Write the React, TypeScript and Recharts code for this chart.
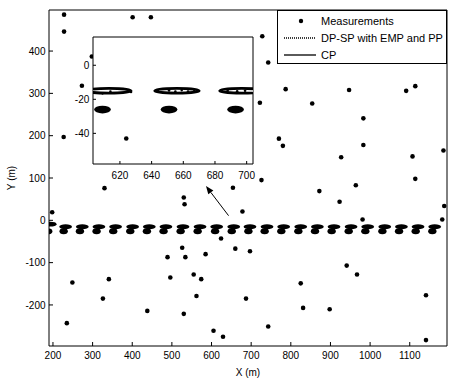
import React from 'react';
import { ScatterChart, Scatter, XAxis, YAxis, ReferenceLine, Legend } from 'recharts';

const FONT = '"Liberation Sans", Arial, Helvetica, sans-serif';

// ---------------- data ----------------
const measX = [228, 228, 273, 227, 298, 401, 447, 330, 530, 728, 743, 787, 722, 854, 947, 983, 1091, 1114, 770, 780, 927, 983, 1107, 1185, 1114, 726, 654, 872, 964, 198, 532, 624, 526, 489, 534, 585, 496, 555, 574, 562, 249, 341, 326, 438, 235, 530, 605, 629, 923, 678, 981, 1187, 1182, 660, 697, 941, 967, 825, 831, 898, 687, 743, 1141, 1141, 1195];
const measY = [486, 446, 318, 197, 387, 480, 480, 76, 54, 435, 373, 310, 278, 276, 308, 241, 306, 317, 193, 176, 149, 178, 151, 165, 98, 95, 77, 69, 83, 19, 38, -43, -65, -87, -87, -80, -135, -128, -139, -179, -147, -139, -185, -214, -243, -221, -261, -275, 44, 21, 2, 34, 2, -67, -73, -107, -128, -149, -207, -210, -185, -251, -177, -283, 462];

// DP-SP with EMP and PP: ellipse centres
const ellipseX = [193, 232, 274, 316, 358, 401, 443, 485, 528, 571, 613, 656, 697, 740, 782, 825, 867, 909, 952, 994, 1037, 1079, 1121, 1163];
const ellipseY = [-9, -15, -15, -15, -15, -15, -15, -15, -15, -15, -15, -15, -15, -15, -15, -15, -15, -15, -15, -15, -15, -15, -15, -15];
// CP: clustered estimates
const cpX = [188, 227, 268, 310, 352, 395, 437, 479, 522, 565, 609, 651, 693, 734, 776, 819, 861, 903, 946, 988, 1031, 1073, 1115, 1157];
const cpY = [-26, -26, -26, -26, -26, -26, -26, -26, -26, -26, -26, -26, -26, -26, -26, -26, -26, -26, -26, -26, -26, -26, -26, -26];
// estimated points inside the ellipses (visible in the inset)
const estX = [609, 614, 627, 644, 651, 655, 659, 663, 667, 688, 694, 699];
const estY = [-16.5, -15.5, -15.7, -15, -14.8, -15.5, -14.6, -15.4, -15, -15, -15.3, -15];

const xTicks = [200, 300, 400, 500, 600, 700, 800, 900, 1000, 1100];
const yTicks = [-200, -100, 0, 100, 200, 300, 400];
const insetXTicks = [620, 640, 660, 680, 700];
const insetYTicks = [-40, -20, 0];

const legendItems = ['Measurements', 'DP-SP with EMP and PP', 'CP'];
const arrowTail = { x: 643, y: 11 };
const arrowHead = { x: 586, y: 81 };

// ---------------- layout ----------------
const W = 449, H = 381;
const M = { top: 9, right: 1, bottom: 0, left: 0 };
const YW = 49, XH = 35, SIDE = 1;
const X_DOM: [number, number] = [190, 1194];
const Y_DOM: [number, number] = [-297, 497];
const PW = W - M.left - M.right - YW - SIDE;
const PH = H - M.top - M.bottom - XH - SIDE;
const KX = PW / (X_DOM[1] - X_DOM[0]);
const KY = PH / (Y_DOM[1] - Y_DOM[0]);

const IL = 60, IT = 30, IW = 196, IH = 156;
const IM = { top: 6, right: 2, bottom: 0, left: 0 };
const IYW = 33, IXH = 22;
const IX_DOM: [number, number] = [603, 704];
const IY_DOM: [number, number] = [-58, 16.6];
const IPW = IW - IM.left - IM.right - IYW - SIDE;
const IPH = IH - IM.top - IM.bottom - IXH - SIDE;
const IKX = IPW / (IX_DOM[1] - IX_DOM[0]);
const IKY = IPH / (IY_DOM[1] - IY_DOM[0]);

const measData = measX.map((x, i) => ({ x, y: measY[i] }));
const ellData = ellipseX.map((x, i) => ({ x, y: ellipseY[i] }));
const cpData = cpX.map((x, i) => ({ x, y: cpY[i] }));
const estData = estX.map((x, i) => ({ x, y: estY[i] }));

const ELL_RX = 14, ELL_RY = 1.4, CP_RX = 4, CP_RY = 1.1;
const MARK_R = 2.3;

// outlined ellipse (inset scale)
const makeRing = (kx: number, ky: number, rx: number, ry: number, sw: number) => (p: any) =>
  p.cx == null ? <g /> : (
    <ellipse cx={p.cx} cy={p.cy} rx={rx * kx} ry={ry * ky} fill="#fff" stroke="#000" strokeWidth={sw} />
  );
// solid blob = ellipse grown by the marker radius (pixel-size markers)
const makeBlob = (kx: number, ky: number, rx: number, ry: number, padX: number, padY: number) => (p: any) =>
  p.cx == null ? <g /> : (
    <ellipse cx={p.cx} cy={p.cy} rx={rx * kx + padX} ry={ry * ky + padY} fill="#000" stroke="none" />
  );
const makeDot = (r: number) => (p: any) =>
  p.cx == null ? <g /> : <circle cx={p.cx} cy={p.cy} r={r} fill="#000" />;

const arrowShape = (p: any) => {
  const { x1, y1, x2, y2 } = p;
  if (x1 == null) return <g />;
  const dx = x2 - x1, dy = y2 - y1;
  const len = Math.hypot(dx, dy) || 1;
  const ux = dx / len, uy = dy / len;
  const hl = 8, hw = 3.2;
  const bx = x2 - ux * hl, by = y2 - uy * hl;
  return (
    <g>
      <line x1={x1} y1={y1} x2={bx} y2={by} stroke="#000" strokeWidth={1} />
      <polygon points={`${x2},${y2} ${bx - uy * hw},${by + ux * hw} ${bx + uy * hw},${by - ux * hw}`} fill="#000" />
    </g>
  );
};

const tickStyle = { fontSize: 10, fill: '#000', fontFamily: FONT };

const renderLegend = () => (
  <div style={{ width: 170, height: 54, boxSizing: 'border-box', border: '1px solid #000', background: '#fff' }}>
    <svg width={168} height={52} style={{ display: 'block' }}>
      {legendItems.map((name, i) => {
        const cy = 10 + i * 17;
        return (
          <g key={name}>
            {i === 0 && <circle cx={23} cy={cy} r={2.2} fill="#000" />}
            {i === 1 && <line x1={6} x2={38} y1={cy} y2={cy} stroke="#000" strokeWidth={1.3} strokeDasharray="1 1" />}
            {i === 2 && <line x1={6} x2={38} y1={cy} y2={cy} stroke="#000" strokeWidth={1.3} />}
            <text x={43} y={cy + 4} fontSize={11} fontFamily={FONT} fill="#000">{name}</text>
          </g>
        );
      })}
    </svg>
  </div>
);

const YLabel = (props: any) => {
  const vb = props.viewBox || {};
  const x = vb.x + 11, y = vb.y + vb.height / 2;
  return (
    <text x={x} y={y} transform={`rotate(-90 ${x} ${y})`} textAnchor="middle" dominantBaseline="central" fontSize={10} fontFamily={FONT} fill="#000">Y (m)</text>
  );
};
const XLabel = (props: any) => {
  const vb = props.viewBox || {};
  return (
    <text x={vb.x + vb.width / 2} y={vb.y + 29.5} textAnchor="middle" fontSize={10} fontFamily={FONT} fill="#000">X (m)</text>
  );
};

const axisLine = { stroke: '#000', strokeWidth: 1 };
const tickLine = { stroke: '#000', strokeWidth: 1 };

export default function App() {
  return (
    <div style={{ position: 'absolute', left: 0, top: 0, width: W, height: H, background: '#fff', fontFamily: FONT }}>
      <div style={{ position: 'absolute', left: 0, top: 0 }}>
        <ScatterChart width={W} height={H} margin={M}>
          <XAxis xAxisId="b" dataKey="x" type="number" domain={X_DOM} allowDataOverflow ticks={xTicks} interval={0}
            orientation="bottom" height={XH} tickSize={-4} tickMargin={10} tick={tickStyle} axisLine={axisLine} tickLine={tickLine}
            label={(p: any) => <XLabel {...p} />} />
          <XAxis xAxisId="t" type="number" domain={X_DOM} allowDataOverflow ticks={xTicks} interval={0}
            orientation="top" height={SIDE} tickSize={-4} tick={false} axisLine={axisLine} tickLine={tickLine} />
          <YAxis yAxisId="l" dataKey="y" type="number" domain={Y_DOM} allowDataOverflow ticks={yTicks} interval={0}
            orientation="left" width={YW} tickSize={-4} tickMargin={7.5} tick={tickStyle} axisLine={axisLine} tickLine={tickLine}
            label={(p: any) => <YLabel {...p} />} />
          <YAxis yAxisId="r" type="number" domain={Y_DOM} allowDataOverflow ticks={yTicks} interval={0}
            orientation="right" width={SIDE} tickSize={-4} tick={false} axisLine={axisLine} tickLine={tickLine} />
          <Scatter name="DP-SP with EMP and PP" xAxisId="b" yAxisId="l" data={ellData} isAnimationActive={false}
            shape={makeBlob(KX, KY, ELL_RX, ELL_RY, 0.8, 1.9)} />
          <Scatter name="CP" xAxisId="b" yAxisId="l" data={cpData} isAnimationActive={false}
            shape={makeBlob(KX, KY, CP_RX, CP_RY, MARK_R + 0.3, MARK_R + 0.2)} />
          <Scatter name="Measurements" xAxisId="b" yAxisId="l" data={measData} isAnimationActive={false} shape={makeDot(MARK_R)} />
          <ReferenceLine xAxisId="b" yAxisId="l" segment={[arrowTail, arrowHead]} shape={arrowShape} />
          <Legend content={renderLegend} layout="horizontal" verticalAlign="middle" align="center"
            wrapperStyle={{ left: 277, top: 10, width: 170, height: 54 }} />
        </ScatterChart>
      </div>
      <div style={{ position: 'absolute', left: IL + IM.left + IYW, top: IT + IM.top + SIDE, width: IPW, height: IPH, background: '#fff' }} />
      <div style={{ position: 'absolute', left: IL, top: IT }}>
        <ScatterChart width={IW} height={IH} margin={IM}>
          <XAxis xAxisId="b" dataKey="x" type="number" domain={IX_DOM} allowDataOverflow ticks={insetXTicks} interval={0}
            orientation="bottom" height={IXH} tickSize={-3} tickMargin={10.5} tick={tickStyle} axisLine={axisLine} tickLine={tickLine} />
          <XAxis xAxisId="t" type="number" domain={IX_DOM} allowDataOverflow ticks={insetXTicks} interval={0}
            orientation="top" height={SIDE} tickSize={-3} tick={false} axisLine={axisLine} tickLine={tickLine} />
          <YAxis yAxisId="l" dataKey="y" type="number" domain={IY_DOM} allowDataOverflow ticks={insetYTicks} interval={0}
            orientation="left" width={IYW} tickSize={-3} tickMargin={6.7} tick={tickStyle} axisLine={axisLine} tickLine={tickLine} />
          <YAxis yAxisId="r" type="number" domain={IY_DOM} allowDataOverflow ticks={insetYTicks} interval={0}
            orientation="right" width={SIDE} tickSize={-3} tick={false} axisLine={axisLine} tickLine={tickLine} />
          <Scatter xAxisId="b" yAxisId="l" data={ellData} isAnimationActive={false}
            shape={makeRing(IKX, IKY, ELL_RX, ELL_RY, 2.8)} />
          <Scatter xAxisId="b" yAxisId="l" data={cpData} isAnimationActive={false}
            shape={makeBlob(IKX, IKY, CP_RX, CP_RY, 2, 2)} />
          <Scatter xAxisId="b" yAxisId="l" data={estData} isAnimationActive={false} shape={makeDot(1.3)} />
          <Scatter xAxisId="b" yAxisId="l" data={measData} isAnimationActive={false} shape={makeDot(MARK_R)} />
        </ScatterChart>
      </div>
    </div>
  );
}
